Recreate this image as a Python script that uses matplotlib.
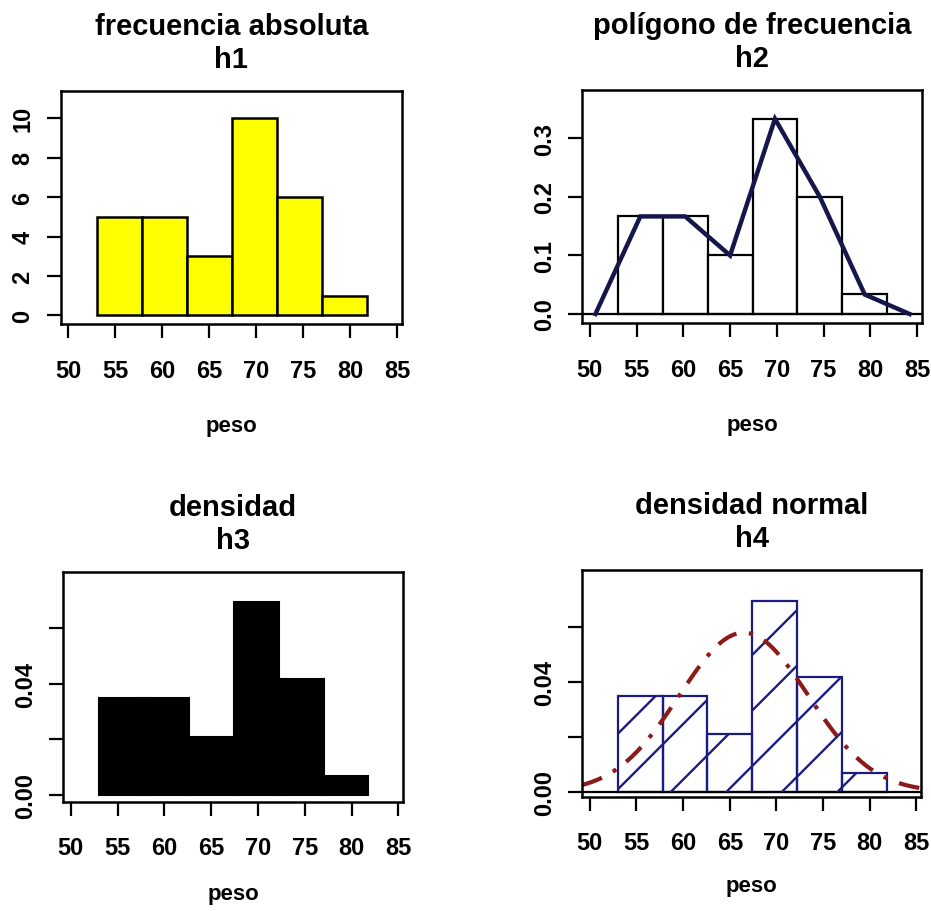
import numpy as np
import matplotlib.pyplot as plt

plt.rcParams['font.family'] = ['Liberation Sans', 'DejaVu Sans']

# histogram of peso: bin edges and counts
edges = [53.0, 57.8, 62.6, 67.4, 72.2, 77.0, 81.8]
counts = [5, 5, 3, 10, 6, 1]
# polygon ends (zero frequency one half-bin outside)
poly_start = 50.6
poly_end = 84.2
# normal density overlay parameters
norm_mean = 66.5
norm_sd = 6.9

xticks = [50, 55, 60, 65, 70, 75, 80, 85]

edges = np.array(edges)
counts = np.array(counts)
widths = np.diff(edges)
mids = edges[:-1] + widths / 2
relfreq = counts / counts.sum()
dens = relfreq / widths

fig = plt.figure(figsize=(9.31, 9.12), dpi=100)
ax1 = fig.add_axes([0.0655, 0.6436, 0.366, 0.2558])
ax2 = fig.add_axes([0.6255, 0.6447, 0.3646, 0.2558])
ax3 = fig.add_axes([0.068, 0.1198, 0.365, 0.2522])
ax4 = fig.add_axes([0.6255, 0.1253, 0.3638, 0.2486])


def setup(ax, title, ylim, yt, ytl, lpad):
    ax.set_xlim(49.2, 85.5)
    ax.set_ylim(*ylim)
    ax.set_xticks(xticks)
    ax.set_xticklabels([str(t) for t in xticks], fontweight='bold')
    ax.set_yticks(yt)
    ax.set_yticklabels(ytl, rotation=90, va='center', fontweight='bold')
    ax.tick_params(length=10, width=1.6, labelsize=17)
    ax.tick_params(axis='x', pad=15)
    ax.tick_params(axis='y', pad=9)
    for s in ax.spines.values():
        s.set_linewidth(1.8)
    ax.set_title(title, fontsize=21, fontweight='bold', pad=17, linespacing=1.25)
    ax.set_xlabel('peso', fontsize=16, fontweight='bold', labelpad=lpad)


# h1 frecuencia absoluta
ax1.bar(edges[:-1], counts, width=widths, align='edge', color='#ffff00',
        edgecolor='black', linewidth=1.8)
setup(ax1, 'frecuencia absoluta\nh1', (-0.44, 11.4), [0, 2, 4, 6, 8, 10],
      ['0', '2', '4', '6', '8', '10'], 24)

# h2 poligono de frecuencia
ax2.bar(edges[:-1], relfreq, width=widths, align='edge', color='white',
        edgecolor='black', linewidth=1.6)
ax2.axhline(0, color='black', lw=1.6)
px = np.concatenate([[poly_start], mids, [poly_end]])
py = np.concatenate([[0], relfreq, [0]])
ax2.plot(px, py, color='#16164a', lw=3.2, solid_joinstyle='miter')
setup(ax2, 'polígono de frecuencia\nh2', (-0.0154, 0.383), [0, 0.1, 0.2, 0.3],
      ['0.0', '0.1', '0.2', '0.3'], 24)

# h3 densidad
ax3.bar(edges[:-1], dens, width=widths, align='edge', color='black',
        edgecolor='black', linewidth=1.5)
setup(ax3, 'densidad\nh3', (-0.0024, 0.0802), [0, 0.02, 0.04, 0.06],
      ['0.00', '', '0.04', ''], 17)

# h4 densidad normal
bars = ax4.bar(edges[:-1], dens, width=widths, align='edge', color='none',
               edgecolor='#1c1c80', linewidth=1.6)
ax4.axhline(0, color='black', lw=1.6)
# 45 degree hatch lines clipped to each bar
k = 0.3638 * 931 / (0.2486 * 912)
for b in bars:
    for c in np.arange(-k - 0.1, 1.2, 0.245):
        ln, = ax4.plot([0, 1], [c, c + k], transform=ax4.transAxes,
                       color='#1c1c80', lw=1.7)
        ln.set_clip_path(b)
xs = np.linspace(49.2, 85.5, 300)
ys = np.exp(-0.5 * ((xs - norm_mean) / norm_sd) ** 2) / (norm_sd * np.sqrt(2 * np.pi))
ax4.plot(xs, ys, color='#8b1a1a', lw=3, linestyle=(0, (5, 3, 1, 3)))
setup(ax4, 'densidad normal\nh4', (-0.0018, 0.0806), [0, 0.02, 0.04, 0.06],
      ['0.00', '', '0.04', ''], 15)

fig.savefig('out.png', dpi=100)
